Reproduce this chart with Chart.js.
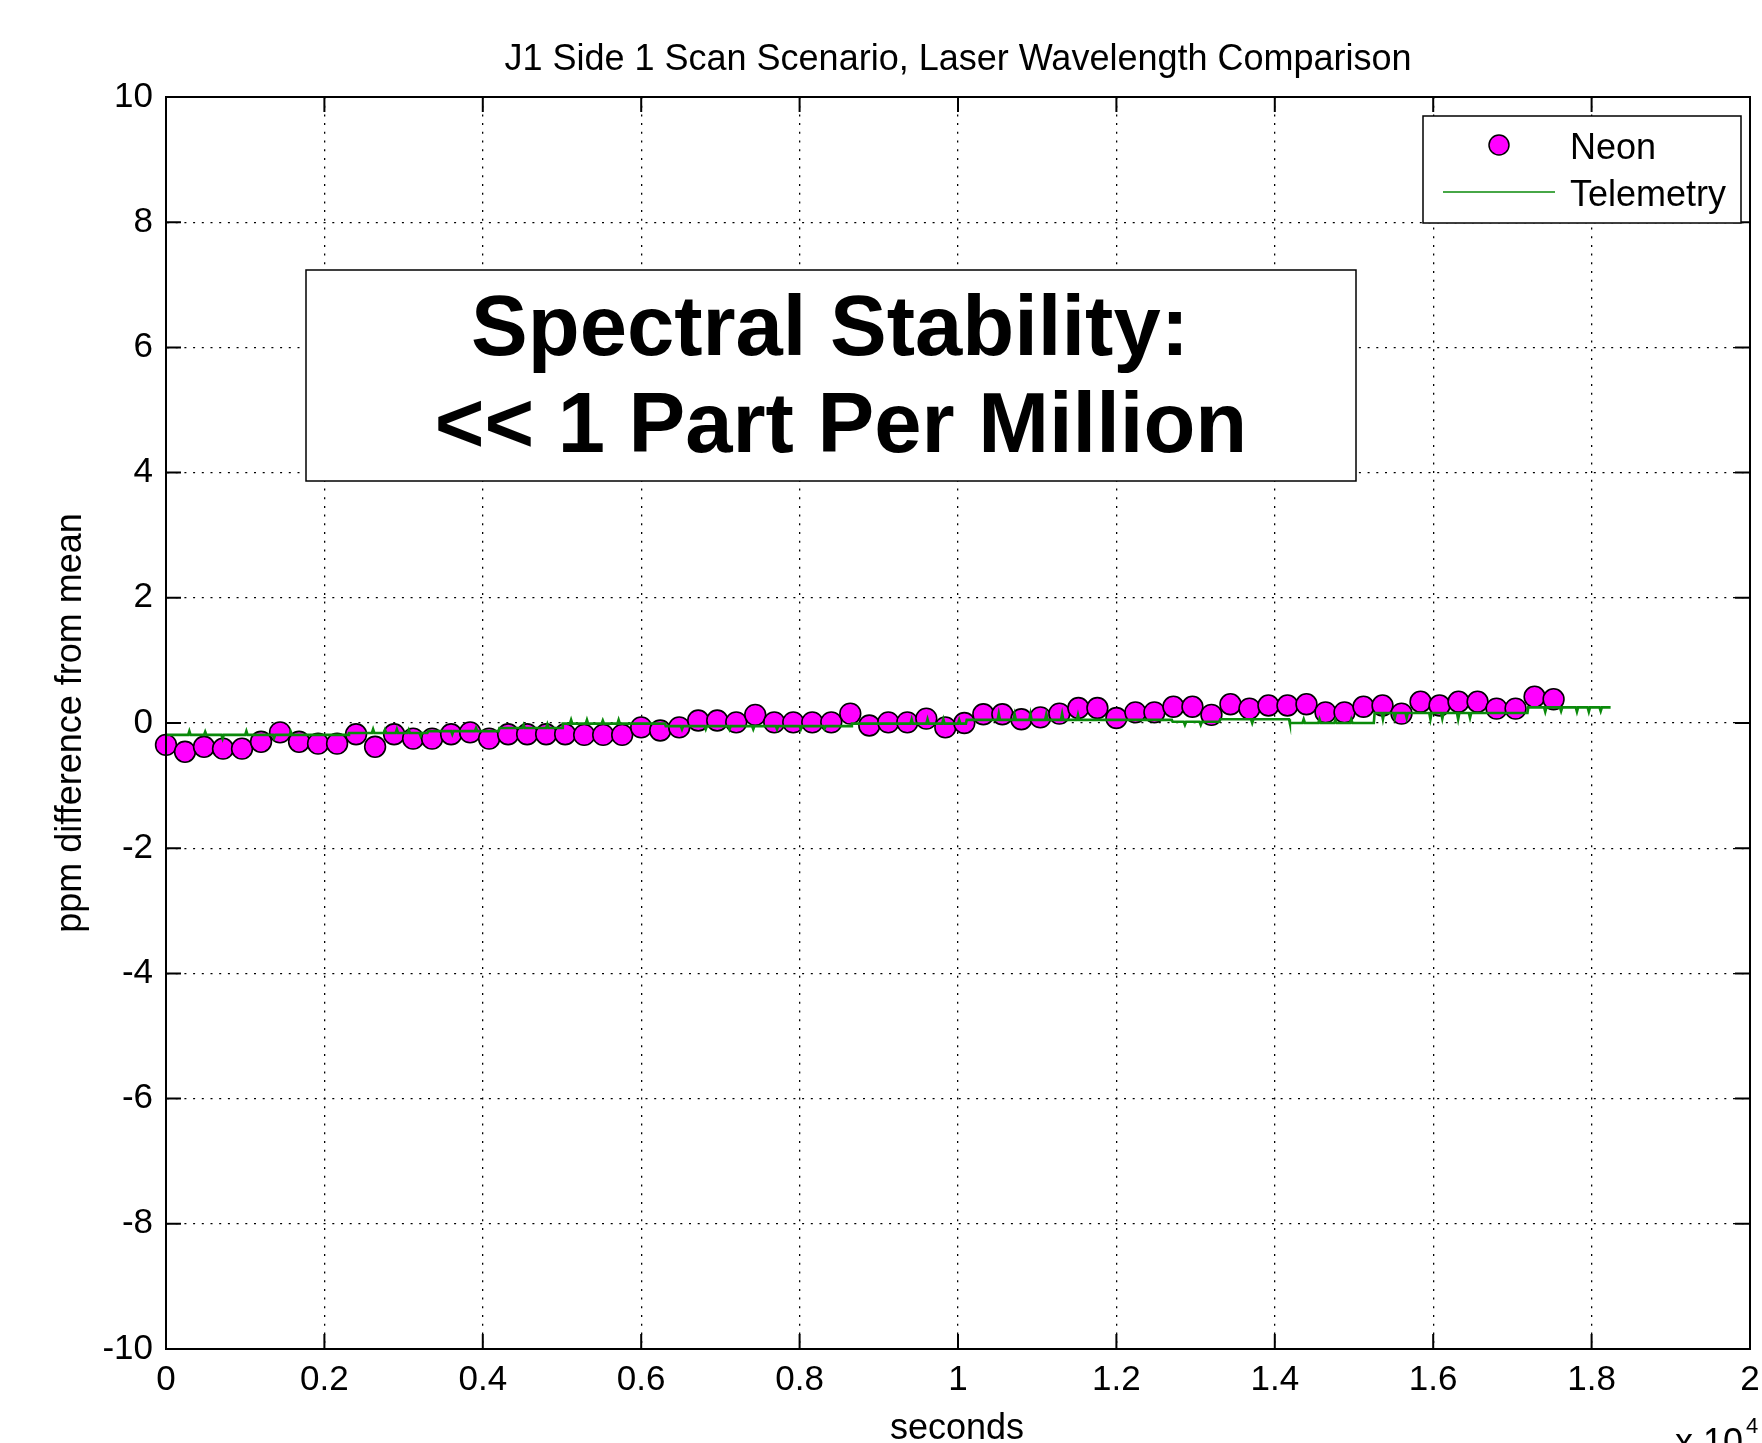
<!DOCTYPE html>
<html>
<head>
<meta charset="utf-8">
<script src="https://cdn.jsdelivr.net/npm/chart.js@4.4.1/dist/chart.umd.min.js"></script>
<style>
html,body{margin:0;padding:0;background:#fff;overflow:hidden}
canvas{display:block}
</style>
</head>
<body>
<canvas id="c" width="1762" height="1443"></canvas>
<script>
const chartTitle = 'J1 Side 1 Scan Scenario, Laser Wavelength Comparison';
const xAxisTitle = 'seconds';
const yAxisTitle = 'ppm difference from mean';
const xExponent = '4';
const noteLines = ['Spectral Stability:', '<< 1 Part Per Million'];
const seriesNames = ['Neon', 'Telemetry'];

const xTickValues = [0, 2000, 4000, 6000, 8000, 10000, 12000, 14000, 16000, 18000, 20000];
const xTickLabels = ['0', '0.2', '0.4', '0.6', '0.8', '1', '1.2', '1.4', '1.6', '1.8', '2'];
const yTickValues = [-10, -8, -6, -4, -2, 0, 2, 4, 6, 8, 10];
const yTickLabels = ['-10', '-8', '-6', '-4', '-2', '0', '2', '4', '6', '8', '10'];

const neonX = [0,240,480,720,960,1200,1440,1680,1920,2160,2400,2640,2880,3120,3360,3600,3840,4080,4320,4560,4800,5040,5280,5520,5760,6000,6240,6480,6720,6960,7200,7440,7680,7920,8160,8400,8640,8880,9120,9360,9600,9840,10080,10320,10560,10800,11040,11280,11520,11760,12000,12240,12480,12720,12960,13200,13440,13680,13920,14160,14400,14640,14880,15120,15360,15600,15840,16080,16320,16560,16800,17040,17280,17520];
const neonY = [-0.35,-0.46,-0.38,-0.41,-0.41,-0.30,-0.15,-0.30,-0.33,-0.33,-0.18,-0.38,-0.18,-0.25,-0.25,-0.18,-0.15,-0.25,-0.18,-0.18,-0.18,-0.18,-0.19,-0.19,-0.19,-0.07,-0.12,-0.07,0.04,0.04,0.01,0.13,0.01,0.01,0.01,0.01,0.15,-0.04,0.01,0.01,0.07,-0.07,0.00,0.14,0.14,0.06,0.09,0.15,0.24,0.24,0.08,0.17,0.17,0.26,0.26,0.13,0.30,0.23,0.28,0.28,0.30,0.17,0.17,0.26,0.28,0.15,0.34,0.28,0.34,0.34,0.23,0.23,0.42,0.38];

const teleX = [0,280,295,310,480,495,510,700,715,730,1000,1015,1030,1350,1365,1380,1560,1575,1590,2300,
2310,2600,2615,2630,2750,2765,2780,2900,2915,2930,3050,3065,3080,3200,3215,3230,3300,
3310,3600,3615,3630,3900,3915,3930,4200,
4210,4500,4515,4530,4800,4815,4830,5000,
5010,5100,5115,5130,5300,5315,5330,5500,5515,5530,5700,5715,5730,6300,
6310,6500,6515,6530,6800,6815,6830,7100,7115,7130,7400,7415,7430,7700,7715,7730,8000,8015,8030,8300,8315,8330,8650,
8660,9400,9415,9430,9600,9615,9630,9800,9815,9830,10000,10015,10030,10100,
10110,10500,10515,10530,10700,10715,10730,10900,10915,10930,11100,11115,11130,11300,11315,11330,11500,11515,11530,12700,
12710,12850,12865,12880,13050,13065,13080,13300,
13310,13700,13715,13730,14180,
14190,14350,14365,14380,14550,14565,14580,14750,14765,14780,14950,14965,14980,15250,
15260,15350,15365,15380,15500,15515,15530,15650,15665,15680,15950,15965,15980,16100,16115,16130,16300,16315,16330,16450,16465,16480,17190,
17200,17400,17415,17430,17600,17615,17630,17800,17815,17830,17950,17965,17980,18100,18115,18130,18240];
const teleY = [-0.19,-0.19,-0.13,-0.19,-0.19,-0.14,-0.19,-0.19,-0.25,-0.19,-0.19,-0.13,-0.19,-0.19,-0.24,-0.19,-0.19,-0.14,-0.19,-0.19,
-0.16,-0.16,-0.10,-0.16,-0.16,-0.11,-0.16,-0.16,-0.10,-0.16,-0.16,-0.11,-0.16,-0.16,-0.21,-0.16,-0.16,
-0.13,-0.13,-0.18,-0.13,-0.13,-0.08,-0.13,-0.13,
-0.08,-0.08,-0.03,-0.08,-0.08,-0.02,-0.08,-0.08,
-0.01,-0.01,0.05,-0.01,-0.01,0.05,-0.01,-0.01,0.04,-0.01,-0.01,0.05,-0.01,-0.01,
-0.05,-0.05,-0.10,-0.05,-0.05,-0.10,-0.05,-0.05,-0.10,-0.05,-0.05,-0.10,-0.05,-0.05,-0.10,-0.05,-0.05,-0.10,-0.05,-0.05,-0.09,-0.05,-0.05,
-0.01,-0.01,0.06,-0.01,-0.01,0.06,-0.01,-0.01,0.06,-0.01,-0.01,0.05,-0.01,-0.01,
0.05,0.05,0.15,0.05,0.05,0.14,0.05,0.05,0.15,0.05,0.05,0.14,0.05,0.05,0.15,0.05,0.05,0.13,0.05,0.05,
0.02,0.02,-0.03,0.02,0.02,-0.03,0.02,0.02,
0.06,0.06,0.00,0.06,0.06,
0.00,0.00,0.06,0.00,0.00,0.06,0.00,0.00,0.05,0.00,0.00,0.06,0.00,0.00,
0.16,0.16,0.06,0.16,0.16,0.08,0.16,0.16,0.08,0.16,0.16,0.06,0.16,0.16,0.07,0.16,0.16,0.06,0.16,0.16,0.08,0.16,0.16,
0.25,0.25,0.18,0.25,0.25,0.19,0.25,0.25,0.18,0.25,0.25,0.18,0.25,0.25,0.19,0.25,0.25];

const FONT = "'Liberation Sans', Arial, Helvetica, sans-serif";
const NEON_COLOR = '#ff00ff';
const TELE_COLOR = '#0a8a0a';

const decor = {
  id: 'decor',
  afterDraw(chart) {
    const {ctx, chartArea: a, scales: {x, y}} = chart;
    ctx.save();
    // plot box
    ctx.strokeStyle = '#000';
    ctx.lineWidth = 2;
    ctx.strokeRect(a.left, a.top, a.right - a.left, a.bottom - a.top);
    // inward tick marks on all sides
    ctx.beginPath();
    xTickValues.forEach(v => {
      const p = x.getPixelForValue(v);
      ctx.moveTo(p, a.bottom); ctx.lineTo(p, a.bottom - 15);
      ctx.moveTo(p, a.top); ctx.lineTo(p, a.top + 15);
    });
    yTickValues.forEach(v => {
      const p = y.getPixelForValue(v);
      ctx.moveTo(a.left, p); ctx.lineTo(a.left + 15, p);
      ctx.moveTo(a.right, p); ctx.lineTo(a.right - 15, p);
    });
    ctx.stroke();

    // titles
    ctx.fillStyle = '#000';
    ctx.font = `36px ${FONT}`;
    ctx.textAlign = 'center';
    ctx.textBaseline = 'alphabetic';
    const cx = (a.left + a.right) / 2;
    ctx.fillText(chartTitle, 958, 70);
    ctx.fillText(xAxisTitle, 957, 1439);
    ctx.save();
    ctx.translate(81, (a.top + a.bottom) / 2);
    ctx.rotate(-Math.PI / 2);
    ctx.fillText(yAxisTitle, 0, 0);
    ctx.restore();
    // exponent
    ctx.textAlign = 'left';
    ctx.fillText('x 10', 1675, 1454);
    ctx.font = `22px ${FONT}`;
    ctx.fillText(xExponent, 1746, 1433);

    // annotation box
    ctx.fillStyle = '#fff';
    ctx.fillRect(306, 270, 1050, 211);
    ctx.lineWidth = 1.5;
    ctx.strokeStyle = '#000';
    ctx.strokeRect(306, 270, 1050, 211);
    ctx.fillStyle = '#000';
    ctx.font = `bold 85px ${FONT}`;
    ctx.textAlign = 'center';
    ctx.fillText(noteLines[0], 830, 355);
    ctx.fillText(noteLines[1], 841, 452);

    // legend
    ctx.fillStyle = '#fff';
    ctx.fillRect(1423, 116, 318, 107);
    ctx.lineWidth = 1.5;
    ctx.strokeRect(1423, 116, 318, 107);
    ctx.beginPath();
    ctx.arc(1499, 145, 10, 0, Math.PI * 2);
    ctx.fillStyle = NEON_COLOR;
    ctx.fill();
    ctx.strokeStyle = '#000';
    ctx.lineWidth = 1.5;
    ctx.stroke();
    ctx.beginPath();
    ctx.moveTo(1443, 192); ctx.lineTo(1555, 192);
    ctx.strokeStyle = TELE_COLOR;
    ctx.lineWidth = 1.5;
    ctx.stroke();
    ctx.fillStyle = '#000';
    ctx.font = `36px ${FONT}`;
    ctx.textAlign = 'left';
    ctx.fillText(seriesNames[0], 1570, 159);
    ctx.fillText(seriesNames[1], 1570, 206);
    ctx.restore();
  }
};

new Chart(document.getElementById('c'), {
  type: 'scatter',
  data: {
    datasets: [
      {
        label: seriesNames[0],
        data: neonX.map((v, i) => ({x: v, y: neonY[i]})),
        showLine: false,
        pointStyle: 'circle',
        pointRadius: 10.4,
        pointBackgroundColor: NEON_COLOR,
        pointBorderColor: '#000',
        pointBorderWidth: 1.6,
        order: 2,
        clip: false
      },
      {
        label: seriesNames[1],
        data: teleX.map((v, i) => ({x: v, y: teleY[i]})),
        showLine: true,
        borderColor: TELE_COLOR,
        borderWidth: 2.6,
        pointRadius: 0,
        tension: 0,
        order: 1
      }
    ]
  },
  options: {
    responsive: false,
    animation: false,
    devicePixelRatio: 1,
    layout: {padding: {left: 0, top: 97, right: 6, bottom: 0}},
    plugins: {legend: {display: false}, tooltip: {enabled: false}, title: {display: false}},
    scales: {
      x: {
        type: 'linear', min: 0, max: 20000,
        afterFit(s) { s.height = 94; s.paddingLeft = 0; s.paddingRight = 0; },
        afterBuildTicks(s) { s.ticks = xTickValues.map(v => ({value: v})); },
        ticks: {
          callback: v => xTickLabels[xTickValues.indexOf(v)],
          font: {size: 35, family: FONT}, color: '#000', padding: 10,
          maxRotation: 0, autoSkip: false
        },
        grid: {color: '#000', lineWidth: 1.3, drawTicks: false},
        border: {display: true, color: '#000', width: 2, dash: [2, 6.7]}
      },
      y: {
        type: 'linear', min: -10, max: 10,
        afterFit(s) { s.width = 166; s.paddingTop = 0; s.paddingBottom = 0; },
        afterBuildTicks(s) { s.ticks = yTickValues.map(v => ({value: v})); },
        ticks: {
          callback: v => yTickLabels[yTickValues.indexOf(v)],
          font: {size: 35, family: FONT}, color: '#000', padding: 13,
          autoSkip: false
        },
        grid: {color: '#000', lineWidth: 1.3, drawTicks: false},
        border: {display: true, color: '#000', width: 2, dash: [2, 6.7]}
      }
    }
  },
  plugins: [decor]
});
</script>
</body>
</html>
